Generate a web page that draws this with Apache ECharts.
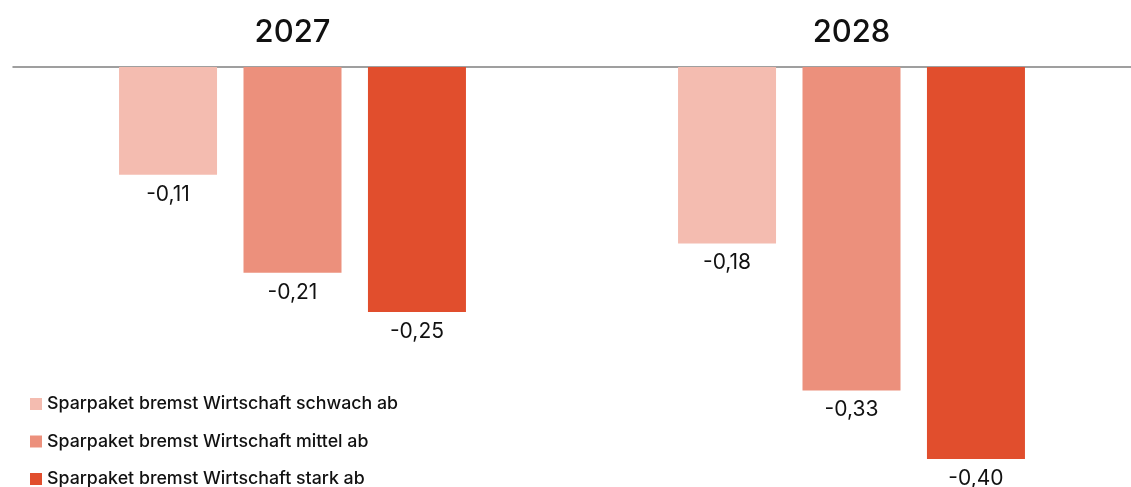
<!DOCTYPE html>
<html>
<head>
<meta charset="utf-8">
<script src="https://cdn.jsdelivr.net/npm/echarts@6/dist/echarts.min.js"></script>
<style>
html,body{margin:0;padding:0;background:#fff;}
#chart{width:1131px;height:487px;}
</style>
</head>
<body>
<div id="chart"></div>
<script>
const categories = ['2027', '2028'];
const seriesNames = [
  'Sparpaket bremst Wirtschaft schwach ab',
  'Sparpaket bremst Wirtschaft mittel ab',
  'Sparpaket bremst Wirtschaft stark ab'
];
const schwach = [-0.11, -0.18];
const mittel = [-0.21, -0.33];
const stark = [-0.25, -0.40];
const colors = ['#F4BCB0', '#EC907C', '#E14E2D'];

const FONT = 'Inter, "Noto Sans", sans-serif';
const fmt = v => v.toFixed(2).replace('.', ',');

function makeSeries(name, data, color) {
  return {
    name: name,
    type: 'bar',
    data: data,
    barWidth: 98,
    barGap: '27%',
    itemStyle: { color: color },
    label: {
      show: true,
      position: 'bottom',
      distance: 9,
      color: '#111',
      fontFamily: FONT,
      fontSize: 21,
      formatter: p => fmt(p.value)
    },
    emphasis: { disabled: true }
  };
}

const chart = echarts.init(document.getElementById('chart'), null, { renderer: 'canvas' });
chart.setOption({
  animation: false,
  backgroundColor: '#fff',
  grid: { left: 13, width: 1126, top: 67, height: 392, containLabel: false },
  legend: {
    orient: 'vertical',
    left: 30,
    top: 395,
    height: 200,
    padding: 0,
    icon: 'rect',
    itemWidth: 12,
    itemHeight: 12,
    itemGap: 19.5,
    textStyle: { fontFamily: FONT, fontSize: 17.8, fontWeight: 500, color: '#111', lineHeight: 16 },
    data: seriesNames
  },
  xAxis: {
    type: 'category',
    position: 'top',
    data: categories,
    axisLine: { onZero: false, lineStyle: { color: '#808080', width: 1.5 } },
    axisTick: { show: false },
    axisLabel: { margin: 19, fontFamily: FONT, fontSize: 31, fontWeight: 500, color: '#111' }
  },
  yAxis: {
    type: 'value',
    min: -0.4,
    max: 0,
    show: false,
    splitLine: { show: false }
  },
  series: [
    makeSeries(seriesNames[0], schwach, colors[0]),
    makeSeries(seriesNames[1], mittel, colors[1]),
    makeSeries(seriesNames[2], stark, colors[2])
  ]
});
</script>
</body>
</html>
